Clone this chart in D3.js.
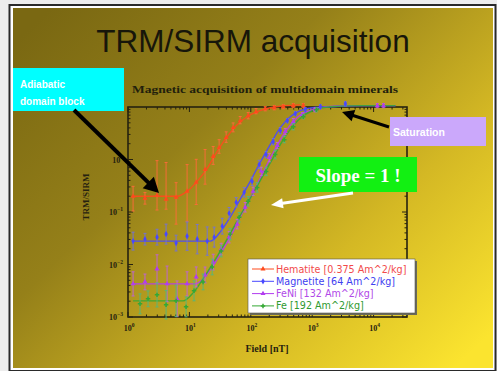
<!DOCTYPE html>
<html>
<head>
<meta charset="utf-8">
<script src="https://cdn.jsdelivr.net/npm/d3@7"></script>
<style>
  html, body { margin: 0; padding: 0; background: #ededed; }
  svg { display: block; }
</style>
</head>
<body>
<svg id="slide" width="497" height="371"></svg>
<script>
// ---------- data ----------
const seriesNames = ["Hematite [0.375 Am^2/kg]", "Magnetite [64 Am^2/kg]", "FeNi [132 Am^2/kg]", "Fe [192 Am^2/kg]"];
const xTickValues = [1, 10, 100, 1000, 10000];
const yTickValues = [0.001, 0.01, 0.1, 1];

// Hematite: measurements (field nT, TRM/SIRM, error up / down in decades)
const hemField = [1.21, 1.89, 2.97, 4.17, 6.07, 9.17, 12.9, 18.0, 24.4, 30.5, 39.7, 51.6, 67.2, 90.7, 122, 172, 241, 338, 492, 716];
const hemRatio = [0.199, 0.182, 0.208, 0.175, 0.190, 0.247, 0.366, 0.646, 1.14, 1.69, 2.61, 4.04, 5.49, 6.82, 8.13, 9.27, 9.68, 10.1, 10.6, 10.6];
const hemErrUp = [0.19, 0.11, 0.66, 0.70, 0.28, 0.51, 0.44, 0.38, 0.19, 0.15, 0.11, 0.09, 0.08, 0.06, 0.06, 0.04, 0.04, 0.04, 0.04, 0.04];
const hemErrDown = [0.28, 0.11, 0.28, 0.19, 0.51, 0.57, 0.42, 0.28, 0.15, 0.11, 0.09, 0.08, 0.06, 0.06, 0.04, 0.04, 0.04, 0.04, 0.04, 0.04];
const hemFitField = [1.21, 6.30, 9.17, 13.4, 19.5, 28.3, 41.2, 60.0, 87.4, 127, 207, 364, 640];
const hemFitRatio = [0.199, 0.199, 0.247, 0.383, 0.675, 1.42, 2.73, 4.61, 6.53, 8.13, 9.68, 10.6, 11.0];

// Magnetite
const magField = [1.21, 1.89, 2.97, 4.17, 6.07, 9.17, 13.4, 19.5, 25.3, 34.2, 44.4, 57.8, 78.0, 105, 137, 178, 232, 302, 393, 530, 771, 1360, 3470];
const magRatio = [0.0279, 0.0304, 0.0332, 0.0379, 0.0256, 0.0347, 0.0304, 0.0279, 0.0332, 0.0537, 0.0946, 0.153, 0.237, 0.383, 0.804, 1.24, 2.19, 3.55, 5.49, 7.45, 8.87, 10.1, 11.5];
const magErr = [0.17, 0.11, 0.15, 0.19, 0.15, 0.27, 0.28, 0.27, 0.19, 0.15, 0.11, 0.09, 0.09, 0.08, 0.08, 0.06, 0.06, 0.06, 0.04, 0.04, 0.04, 0.04, 0.04];
const magFitField = [1.21, 21.8, 31.7, 46.1, 67.2, 97.8, 142, 207, 302, 440, 640, 1000, 1970, 6090, 22700];
const magFitRatio = [0.0279, 0.0279, 0.0413, 0.0795, 0.175, 0.383, 0.877, 1.92, 4.04, 6.53, 8.49, 9.68, 10.1, 10.6, 10.6];

// FeNi
const feniField = [1.21, 1.89, 2.97, 4.33, 6.30, 9.17, 12.9, 18.0, 24.4, 32.9, 44.4, 60.0, 81.0, 109, 148, 200, 270, 364, 492, 689, 1120, 11500, 14500];
const feniRatio = [0.00427, 0.00466, 0.00822, 0.00427, 0.00222, 0.00427, 0.00580, 0.00633, 0.0111, 0.0197, 0.0332, 0.0586, 0.123, 0.247, 0.593, 1.09, 1.84, 3.40, 5.25, 7.13, 8.87, 10.6, 10.6];
const feniErr = [0.23, 0.15, 0.27, 0.34, 0.34, 0.23, 0.19, 0.15, 0.15, 0.11, 0.11, 0.09, 0.09, 0.08, 0.08, 0.08, 0.06, 0.06, 0.06, 0.04, 0.04, 0.04, 0.04];
const feniFitField = [1.21, 12.4, 16.7, 23.5, 34.2, 49.7, 72.4, 105, 153, 223, 325, 473, 689, 1000, 1640, 4180, 22700];
const feniFitRatio = [0.00427, 0.00427, 0.00531, 0.00897, 0.0180, 0.0396, 0.0946, 0.217, 0.520, 1.24, 2.73, 5.03, 7.45, 8.87, 10.1, 10.6, 10.6];

// Fe
const feField = [1.57, 2.12, 2.97, 4.17, 6.07, 8.83, 11.9, 16.7, 23.5, 32.9, 46.1, 64.7, 90.7, 127, 178, 250, 351, 492, 716, 1170];
const feRatio = [0.00178, 0.00222, 0.00264, 0.00171, 0.00203, 0.00156, 0.00315, 0.00466, 0.00897, 0.0180, 0.0379, 0.0795, 0.160, 0.294, 0.593, 1.24, 2.39, 4.22, 6.53, 8.87];
const feErr = [0.19, 0.15, 0.23, 0.27, 0.30, 0.19, 0.19, 0.15, 0.15, 0.11, 0.11, 0.09, 0.09, 0.09, 0.08, 0.08, 0.06, 0.06, 0.04, 0.04];
const feFitField = [1.21, 7.89, 11.5, 16.7, 24.4, 35.5, 51.6, 75.2, 109, 159, 232, 338, 492, 716, 1120, 1970, 6090, 22700];
const feFitRatio = [0.00203, 0.00203, 0.00288, 0.00531, 0.0107, 0.0224, 0.0492, 0.108, 0.227, 0.497, 1.09, 2.39, 4.41, 6.82, 8.87, 10.1, 10.6, 10.6];

// ---------- build series ----------
const series = [
  { name: seriesNames[0], color: "#ff4a1c", text: "#f24a4a", err: "#ff6a3a", symbol: d3.symbolTriangle,
    pts: hemField.map((f, i) => ({ f, r: hemRatio[i], up: hemErrUp[i], dn: hemErrDown[i] })),
    fit: hemFitField.map((f, i) => ({ f, r: hemFitRatio[i] })) },
  { name: seriesNames[1], color: "#4848ff", text: "#4040f0", err: "#7070e0", symbol: d3.symbolDiamond,
    pts: magField.map((f, i) => ({ f, r: magRatio[i], up: magErr[i], dn: magErr[i] })),
    fit: magFitField.map((f, i) => ({ f, r: magFitRatio[i] })) },
  { name: seriesNames[2], color: "#b23cf0", text: "#b048e8", err: "#c060e0", symbol: d3.symbolTriangle,
    pts: feniField.map((f, i) => ({ f, r: feniRatio[i], up: feniErr[i], dn: feniErr[i] })),
    fit: feniFitField.map((f, i) => ({ f, r: feniFitRatio[i] })) },
  { name: seriesNames[3], color: "#34a834", text: "#2f9a2f", err: "#50b880", symbol: d3.symbolCross,
    pts: feField.map((f, i) => ({ f, r: feRatio[i], up: feErr[i], dn: feErr[i] })),
    fit: feFitField.map((f, i) => ({ f, r: feFitRatio[i] })) }
];

// ---------- slide ----------
const W = 497, H = 371;
const svg = d3.select("#slide");
const defs = svg.append("defs");

const grad = defs.append("linearGradient").attr("id", "bg")
  .attr("x1", 0).attr("y1", 0.1).attr("x2", 1).attr("y2", 0.9);
[[0, "#7a6812"], [0.35, "#958019"], [0.7, "#d4b824"], [1, "#fbe42f"]]
  .forEach(([o, c]) => grad.append("stop").attr("offset", o).attr("stop-color", c));

svg.append("rect").attr("x", 9.5).attr("y", 5).attr("width", W - 11).attr("height", H - 5)
  .attr("fill", "#fff").attr("stroke", "#2a2a2a").attr("stroke-width", 2);
svg.append("rect").attr("x", 13).attr("y", 8).attr("width", 480).attr("height", 360)
  .attr("fill", "url(#bg)");

svg.append("text").attr("x", 253).attr("y", 52).attr("text-anchor", "middle")
  .attr("font-family", "Liberation Sans, Arial, sans-serif").attr("font-size", 31.5)
  .attr("fill", "#17160a").text("TRM/SIRM acquisition");

// ---------- chart ----------
const plot = { left: 128, right: 407, top: 107, bottom: 317 };
const x = d3.scaleLog().domain([1, 35000]).range([plot.left, plot.right]);
const y = d3.scaleLog().domain([0.001, 10]).range([plot.bottom, plot.top]);
const serif = "Liberation Serif, Times New Roman, serif";
const ink = "#262210";

svg.append("text").attr("x", 265).attr("y", 93).attr("text-anchor", "middle")
  .attr("font-family", serif).attr("font-size", 10.5).attr("font-weight", "bold")
  .attr("fill", "#221f0c").attr("textLength", 266).attr("lengthAdjust", "spacingAndGlyphs")
  .text("Magnetic acquisition of multidomain minerals");

// minor + major ticks on all four sides
const axes = svg.append("g");
const minorX = [], minorY = [];
for (let d = 1; d < 35000; d *= 10) for (let k = 1; k < 10; k++) if (d * k <= 35000) minorX.push(d * k);
for (let d = 0.001; d < 10; d *= 10) for (let k = 1; k < 10; k++) minorY.push(d * k);
minorX.forEach(v => {
  const len = xTickValues.some(t => Math.abs(t - v) / v < 1e-6) ? 5 : 2.5;
  axes.append("line").attr("x1", x(v)).attr("x2", x(v)).attr("y1", plot.bottom).attr("y2", plot.bottom - len).attr("stroke", ink);
  axes.append("line").attr("x1", x(v)).attr("x2", x(v)).attr("y1", plot.top).attr("y2", plot.top + len).attr("stroke", ink);
});
minorY.forEach(v => {
  const len = yTickValues.some(t => Math.abs(t - v) / v < 1e-6) || Math.abs(v - 10) < 1e-6 ? 5 : 2.5;
  axes.append("line").attr("y1", y(v)).attr("y2", y(v)).attr("x1", plot.left).attr("x2", plot.left + len).attr("stroke", ink);
  axes.append("line").attr("y1", y(v)).attr("y2", y(v)).attr("x1", plot.right).attr("x2", plot.right - len).attr("stroke", ink);
});
axes.append("rect").attr("x", plot.left).attr("y", plot.top)
  .attr("width", plot.right - plot.left).attr("height", plot.bottom - plot.top)
  .attr("fill", "none").attr("stroke", ink).attr("stroke-width", 1.6);

function powLabel(sel, v) {
  const e = Math.round(Math.log10(v));
  sel.append("tspan").text("10");
  sel.append("tspan").attr("dy", -4).attr("font-size", 5.5).text(String(e).replace("-", "\u2212"));
}
xTickValues.forEach(v => {
  const t = svg.append("text").attr("x", x(v) + 1).attr("y", 331).attr("text-anchor", "middle")
    .attr("font-family", serif).attr("font-size", 8).attr("font-weight", "bold").attr("fill", ink);
  powLabel(t, v);
});
yTickValues.forEach(v => {
  const t = svg.append("text").attr("x", 123).attr("y", y(v) + 3).attr("text-anchor", "end")
    .attr("font-family", serif).attr("font-size", 8).attr("font-weight", "bold").attr("fill", ink);
  powLabel(t, v);
});
svg.append("text").attr("x", 267).attr("y", 352).attr("text-anchor", "middle")
  .attr("font-family", serif).attr("font-size", 10).attr("font-weight", "bold").attr("fill", ink)
  .text("Field [nT]");
svg.append("text").attr("transform", "translate(89,197) rotate(-90)").attr("text-anchor", "middle")
  .attr("font-family", serif).attr("font-size", 9).attr("font-weight", "bold").attr("fill", ink)
  .text("TRM/SIRM");

// series
defs.append("clipPath").attr("id", "plotclip").append("rect")
  .attr("x", plot.left - 2).attr("y", plot.top - 6).attr("width", plot.right - plot.left + 4).attr("height", plot.bottom - plot.top + 10);
const data = svg.append("g").attr("clip-path", "url(#plotclip)");
const line = d3.line().x(d => x(d.f)).y(d => y(d.r)).curve(d3.curveMonotoneX);

series.forEach(s => {
  data.append("path").datum(s.fit).attr("d", line).attr("fill", "none")
    .attr("stroke", s.color).attr("stroke-width", 1.4).attr("opacity", 0.9);
});
series.forEach(s => {
  const g = data.append("g");
  s.pts.forEach(p => {
    const cx = x(p.f), yHi = y(p.r * Math.pow(10, p.up)), yLo = y(p.r / Math.pow(10, p.dn));
    g.append("line").attr("x1", cx).attr("x2", cx).attr("y1", yHi).attr("y2", yLo)
      .attr("stroke", s.err).attr("stroke-width", 0.9);
    [yHi, yLo].forEach(cy => g.append("line").attr("x1", cx - 1.5).attr("x2", cx + 1.5)
      .attr("y1", cy).attr("y2", cy).attr("stroke", s.err).attr("stroke-width", 0.9));
    g.append("path").attr("d", d3.symbol().type(s.symbol).size(11)())
      .attr("transform", `translate(${cx},${y(p.r)})`).attr("fill", s.color);
  });
});

// legend
const lg = svg.append("g").attr("transform", "translate(248,259)");
lg.append("rect").attr("x", 2).attr("y", 2).attr("width", 167).attr("height", 54).attr("fill", "#6a6a5a");
lg.append("rect").attr("width", 167).attr("height", 54).attr("fill", "#fff").attr("stroke", "#555").attr("stroke-width", 0.6);
series.forEach((s, i) => {
  const cy = 10 + i * 12.3;
  lg.append("line").attr("x1", 4).attr("x2", 26).attr("y1", cy).attr("y2", cy).attr("stroke", s.color).attr("stroke-width", 1);
  lg.append("path").attr("d", d3.symbol().type(s.symbol).size(11)()).attr("transform", `translate(15,${cy})`).attr("fill", s.color);
  lg.append("text").attr("x", 28).attr("y", cy + 3.5).attr("font-family", "DejaVu Sans, sans-serif")
    .attr("font-size", 9.6).attr("fill", s.text).text(s.name);
});

// ---------- annotations ----------
function arrow(x1, y1, x2, y2, w, headLen, headW, color) {
  const dx = x2 - x1, dy = y2 - y1, L = Math.hypot(dx, dy), ux = dx / L, uy = dy / L;
  const bx = x2 - ux * headLen, by = y2 - uy * headLen;
  svg.append("line").attr("x1", x1).attr("y1", y1).attr("x2", bx + ux * 2).attr("y2", by + uy * 2)
    .attr("stroke", color).attr("stroke-width", w);
  svg.append("path").attr("fill", color).attr("d",
    `M${x2},${y2}L${bx - uy * headW},${by + ux * headW}L${bx + uy * headW},${by - ux * headW}Z`);
}

svg.append("rect").attr("x", 13).attr("y", 68).attr("width", 111).attr("height", 43).attr("fill", "#00ffff");
svg.append("text").attr("x", 20).attr("y", 88).attr("font-family", "Liberation Sans, Arial, sans-serif")
  .attr("font-size", 10).attr("font-weight", "bold").attr("fill", "#fff").text("Adiabatic");
svg.append("text").attr("x", 20).attr("y", 105).attr("font-family", "Liberation Sans, Arial, sans-serif")
  .attr("font-size", 10).attr("font-weight", "bold").attr("fill", "#fff").text("domain block");
arrow(74, 110, 159, 193, 4, 15, 8, "#000");

svg.append("rect").attr("x", 390).attr("y", 117).attr("width", 96).attr("height", 29).attr("fill", "#cba8fb");
svg.append("text").attr("x", 393).attr("y", 136).attr("font-family", "Liberation Sans, Arial, sans-serif")
  .attr("font-size", 10.5).attr("font-weight", "bold").attr("fill", "#fff").text("Saturation");
arrow(389, 127, 342, 112, 3, 12, 6, "#000");

svg.append("rect").attr("x", 299).attr("y", 157).attr("width", 118).attr("height", 35).attr("fill", "#12f012");
svg.append("text").attr("x", 358).attr("y", 182).attr("text-anchor", "middle").attr("font-family", serif)
  .attr("font-size", 19).attr("font-weight", "bold").attr("fill", "#fff").text("Slope = 1 !");
arrow(353, 193, 271, 205, 3, 12, 5, "#fff");
</script>
</body>
</html>
